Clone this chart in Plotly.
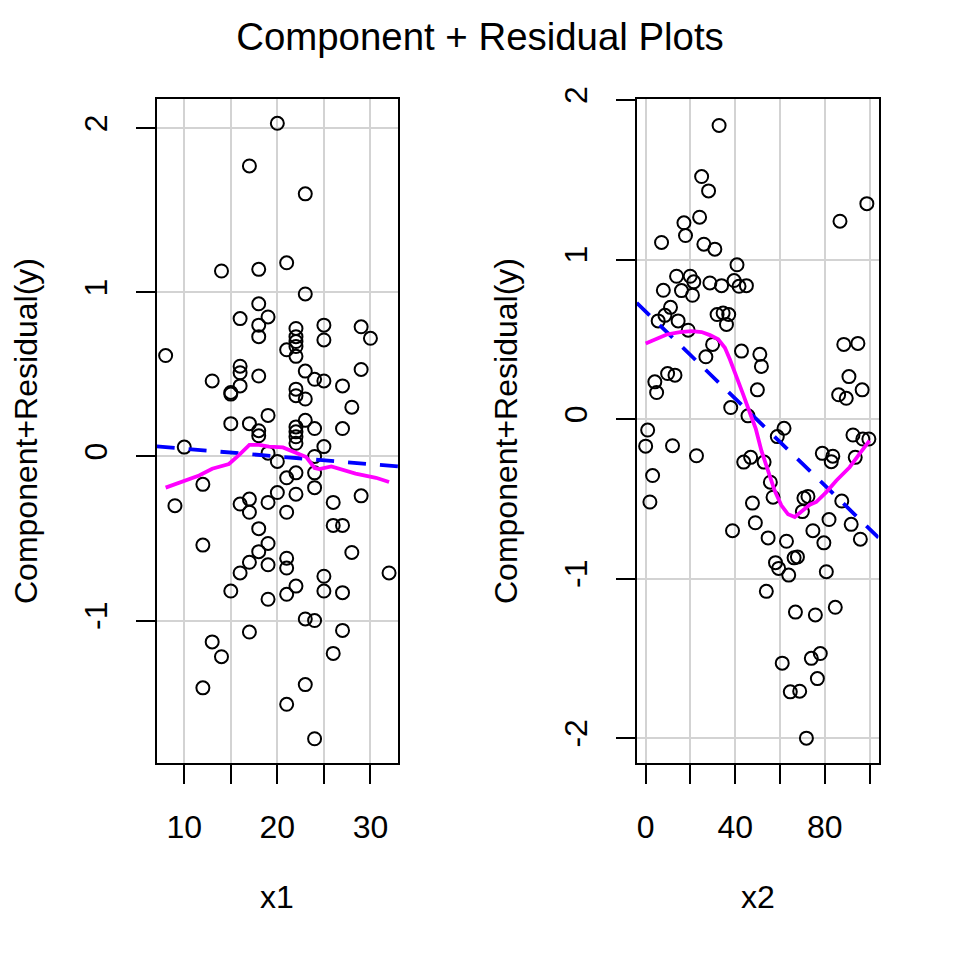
import plotly.graph_objects as go

# ---------------- data: left panel (x1) ----------------
x1_pts = [20, 17, 23, 14, 18, 21, 23, 18, 16, 19,
          18, 18, 22, 22, 22, 22, 22, 21, 25, 25,
          29, 30, 8, 16, 16, 18, 13, 16, 15, 15,
          23, 24, 25, 27, 29, 22, 22, 23, 28, 19,
          15, 17, 18, 18, 22, 22, 22, 22, 23, 24,
          27, 25, 10, 19, 20, 24, 21, 22, 24, 12,
          20, 22, 24, 29, 9, 16, 17, 17, 19, 21,
          26, 18, 26, 27, 12, 19, 18, 17, 19, 21,
          21, 28, 32, 16, 15, 19, 21, 22, 25, 25,
          27, 23, 24, 17, 27, 13, 14, 26, 12, 23,
          21, 24]
y1_pts = [2.03, 1.77, 1.60, 1.13, 1.14, 1.18, 0.99, 0.93, 0.84, 0.85,
          0.80, 0.73, 0.78, 0.73, 0.70, 0.67, 0.61, 0.65, 0.80, 0.71,
          0.79, 0.72, 0.615, 0.55, 0.51, 0.49, 0.46, 0.43, 0.39, 0.38,
          0.52, 0.47, 0.46, 0.43, 0.53, 0.41, 0.37, 0.35, 0.30, 0.25,
          0.20, 0.20, 0.157, 0.126, 0.18, 0.15, 0.12, 0.08, 0.22, 0.17,
          0.17, 0.06, 0.057, 0.02, -0.03, 0.0, -0.13, -0.10, -0.10, -0.17,
          -0.22, -0.23, -0.19, -0.24, -0.30, -0.29, -0.26, -0.34, -0.28, -0.34,
          -0.28, -0.44, -0.42, -0.42, -0.54, -0.53, -0.58, -0.645, -0.66, -0.62,
          -0.68, -0.585, -0.71, -0.71, -0.82, -0.87, -0.84, -0.79, -0.73, -0.82,
          -0.83, -0.99, -1.00, -1.07, -1.06, -1.13, -1.22, -1.20, -1.41, -1.39,
          -1.51, -1.72]

# linear fit (blue dashed), end points at the axis limits
x1_fit = [7.04, 32.96]
y1_fit = [0.061, -0.061]

# smoother (magenta)
x1_smooth = [8.0, 9.8, 11.6, 13.0, 14.8, 15.9, 17.0, 18.05, 19.1, 20.6,
             22.0, 23.1, 24.0, 24.5, 25.8, 27.0, 28.4, 30.6, 32.0]
y1_smooth = [-0.19, -0.15, -0.116, -0.075, -0.046, 0.01, 0.07, 0.07, 0.06, 0.055,
             0.024, -0.004, -0.07, -0.077, -0.061, -0.081, -0.105, -0.13, -0.156]

# ---------------- data: right panel (x2) ----------------
x2_pts = [32.8, 25.0, 28.1, 98.8, 86.8, 24.1, 17.1, 17.8, 7.1, 26.0,
          30.9, 40.8, 13.8, 19.9, 21.5, 28.7, 33.9, 39.5, 41.7, 45.0,
          7.9, 16.0, 20.9, 11.1, 8.6, 5.6, 14.5, 31.9, 34.6, 37.1,
          36.1, 19.0, 29.9, 26.9, 42.8, 51.0, 51.7, 9.8, 13.1, 4.1,
          4.9, 49.9, 38.0, 45.7, 88.5, 94.8, 90.8, 86.2, 89.6, 96.7,
          0.9, 0.0, 12.0, 22.7, 3.1, 1.9, 61.8, 58.8, 92.6, 97.0,
          99.7, 43.8, 46.9, 52.9, 78.9, 83.6, 82.9, 93.6, 55.7, 56.9,
          47.7, 70.7, 72.5, 70.0, 87.6, 81.9, 49.0, 38.8, 74.7, 91.8,
          54.7, 62.9, 79.6, 95.9, 58.0, 59.4, 63.9, 66.3, 67.8, 80.7,
          53.9, 66.9, 75.8, 84.7, 78.0, 74.0, 61.0, 76.7, 64.6, 68.8,
          71.8]
y2_pts = [1.84, 1.52, 1.43, 1.35, 1.24, 1.265, 1.23, 1.15, 1.107, 1.096,
          1.065, 0.967, 0.895, 0.895, 0.86, 0.853, 0.836, 0.868, 0.832, 0.836,
          0.807, 0.805, 0.776, 0.70, 0.65, 0.615, 0.615, 0.655, 0.665, 0.655,
          0.593, 0.557, 0.468, 0.39, 0.426, 0.406, 0.33, 0.285, 0.275, 0.233,
          0.166, 0.183, 0.072, 0.02, 0.468, 0.474, 0.266, 0.152, 0.13, 0.183,
          -0.069, -0.17, -0.167, -0.23, -0.354, -0.52, -0.058, -0.11, -0.10, -0.125,
          -0.125, -0.27, -0.24, -0.27, -0.215, -0.233, -0.267, -0.24, -0.396, -0.49,
          -0.527, -0.495, -0.485, -0.58, -0.514, -0.63, -0.65, -0.70, -0.70, -0.66,
          -0.745, -0.766, -0.776, -0.753, -0.90, -0.936, -0.978, -0.87, -0.864, -0.957,
          -1.08, -1.21, -1.228, -1.18, -1.47, -1.50, -1.53, -1.627, -1.71, -1.706,
          -2.00]

x2_fit = [-4.0, 104.0]
y2_fit = [0.728, -0.743]

x2_smooth = [0.0, 4.9, 9.4, 15.3, 20.5, 25.0, 28.7, 32.4, 35.4, 37.6,
             40.6, 43.5, 46.5, 49.2, 51.7, 54.7, 57.6, 60.6, 63.6, 66.6,
             69.5, 73.3, 76.2, 80.7, 85.2, 91.1, 95.5, 100.0]
y2_smooth = [0.474, 0.50, 0.53, 0.545, 0.551, 0.545, 0.526, 0.50, 0.447, 0.375,
             0.27, 0.156, 0.041, -0.062, -0.198, -0.333, -0.448, -0.541, -0.597, -0.614,
             -0.583, -0.537, -0.52, -0.458, -0.385, -0.302, -0.218, -0.135]

# ---------------- axes / labels ----------------
x1_ticks = [10, 15, 20, 25, 30]
x1_ticktext = ["10", "", "20", "", "30"]
y1_ticks = [-1, 0, 1, 2]
y1_ticktext = ["-1", "0", "1", "2"]
x2_ticks = [0, 20, 40, 60, 80, 100]
x2_ticktext = ["0", "", "40", "", "80", ""]
y2_ticks = [-2, -1, 0, 1, 2]
y2_ticktext = ["-2", "-1", "0", "1", "2"]

title_text = "Component + Residual Plots"
xlab1, xlab2 = "x1", "x2"
ylab = "Component+Residual(y)"

FONT = "Liberation Sans, Arial, sans-serif"
W = 960.0

fig = go.Figure()

def add_panel(xs, ys, xf, yf, xsm, ysm, xa, ya):
    fig.add_trace(go.Scatter(x=xs, y=ys, mode="markers", xaxis=xa, yaxis=ya,
                             marker=dict(symbol="circle-open", size=13, color="black",
                                         line=dict(width=2, color="black")),
                             showlegend=False, hoverinfo="skip"))
    fig.add_trace(go.Scatter(x=xf, y=yf, mode="lines", xaxis=xa, yaxis=ya,
                             line=dict(color="#0000FF", width=3.8, dash="18px,14px"),
                             showlegend=False, hoverinfo="skip"))
    fig.add_trace(go.Scatter(x=xsm, y=ysm, mode="lines", xaxis=xa, yaxis=ya,
                             line=dict(color="#FF00FF", width=3.8),
                             showlegend=False, hoverinfo="skip"))

add_panel(x1_pts, y1_pts, x1_fit, y1_fit, x1_smooth, y1_smooth, "x", "y")
add_panel(x2_pts, y2_pts, x2_fit, y2_fit, x2_smooth, y2_smooth, "x2", "y2")

common = dict(showline=True, mirror=True, linecolor="black", linewidth=2,
              ticks="outside", ticklen=19, tickwidth=2, tickcolor="black",
              showgrid=True, gridcolor="#D3D3D3", gridwidth=2, zeroline=False,
              automargin=False,
              tickfont=dict(family=FONT, size=32, color="black"))

ydom = [1 - 762.7 / W, 1 - 99 / W]

fig.update_layout(
    width=960, height=960,
    margin=dict(l=0, r=0, t=0, b=0, pad=0, autoexpand=False),
    paper_bgcolor="white", plot_bgcolor="white",
    font=dict(family=FONT, size=32, color="black"),
    title=dict(text=title_text, x=0.5, xref="container", xanchor="center",
               y=1 - 37 / W, yref="container", yanchor="middle",
               font=dict(family=FONT, size=38.4, color="black")),
    xaxis=dict(domain=[156.7 / W, 398 / W], range=[7.04, 32.96], anchor="y",
               tickvals=x1_ticks, ticktext=x1_ticktext, ticklabelstandoff=16, **common),
    yaxis=dict(domain=ydom, range=[-1.866, 2.178], anchor="x",
               tickvals=y1_ticks, ticktext=y1_ticktext, tickangle=-90,
               ticklabelstandoff=16, **common),
    xaxis2=dict(domain=[636.7 / W, 878.5 / W], range=[-4.0, 104.0], anchor="y2",
                tickvals=x2_ticks, ticktext=x2_ticktext, ticklabelstandoff=16, **common),
    yaxis2=dict(domain=ydom, range=[-2.154, 2.006], anchor="x2",
                tickvals=y2_ticks, ticktext=y2_ticktext, tickangle=-90,
                ticklabelstandoff=16, **common),
)

ann_font = dict(family=FONT, size=32, color="black")
fig.add_annotation(text=xlab1, x=277.3 / W, y=1 - 897 / W, xref="paper", yref="paper",
                   showarrow=False, xanchor="center", yanchor="middle", font=ann_font)
fig.add_annotation(text=xlab2, x=757.5 / W, y=1 - 897 / W, xref="paper", yref="paper",
                   showarrow=False, xanchor="center", yanchor="middle", font=ann_font)
fig.add_annotation(text=ylab, x=26 / W, y=1 - 431 / W, xref="paper", yref="paper",
                   showarrow=False, xanchor="center", yanchor="middle", textangle=-90,
                   font=ann_font)
fig.add_annotation(text=ylab, x=506 / W, y=1 - 431 / W, xref="paper", yref="paper",
                   showarrow=False, xanchor="center", yanchor="middle", textangle=-90,
                   font=ann_font)

fig.write_html("out.html")
